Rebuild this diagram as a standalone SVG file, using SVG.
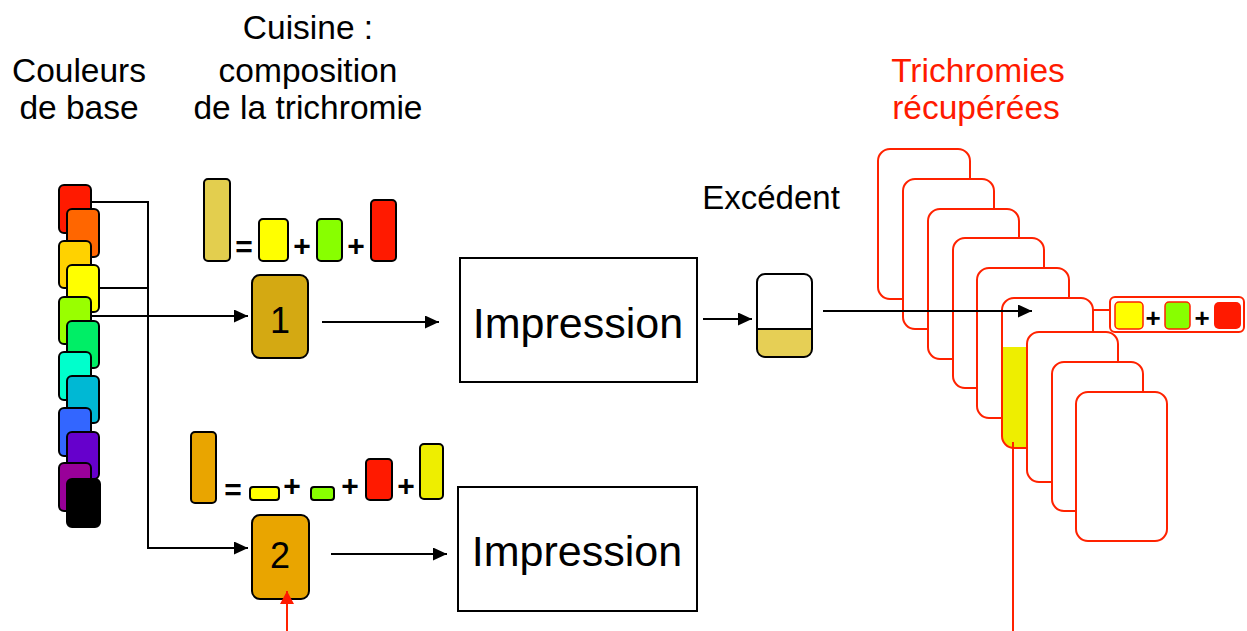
<svg xmlns="http://www.w3.org/2000/svg" width="1247" height="631" viewBox="0 0 1247 631">
  <style>
    .t { font-family: "Liberation Sans", Arial, sans-serif; fill: #000; }
    .title { font-size: 33.5px; text-anchor: middle; }
    .red { fill: #FF1A00; }
    .op { font-size: 30px; font-weight: bold; text-anchor: middle; }
    .chip { stroke: #000; stroke-width: 2; }
    .card { fill: #fff; stroke: #FF2200; stroke-width: 2; }
    .box { fill: #fff; stroke: #000; stroke-width: 2; }
    .wire { fill: none; stroke: #000; stroke-width: 2; }
    .rwire { fill: none; stroke: #FF2200; stroke-width: 2; }
  </style>
  <defs>
    <marker id="arrow" markerUnits="userSpaceOnUse" markerWidth="15" markerHeight="14" refX="14" refY="6.5" orient="auto">
      <path d="M0,0 L14,6.5 L0,13 z" fill="#000"/>
    </marker>
    <marker id="arrowRed" markerUnits="userSpaceOnUse" markerWidth="15" markerHeight="14" refX="13" refY="7" orient="auto">
      <path d="M0,0 L13,7 L0,14 z" fill="#FF1A00"/>
    </marker>
    <clipPath id="card6clip">
      <rect x="1002" y="298" width="91" height="150" rx="12"/>
    </clipPath>
  </defs>

  <!-- Headings -->
  <g id="headings">
    <text class="t title" x="79" y="82">Couleurs</text>
    <text class="t title" x="79" y="119">de base</text>
    <text class="t title" x="308" y="39">Cuisine :</text>
    <text class="t title" x="308" y="82">composition</text>
    <text class="t title" x="308" y="119">de la trichromie</text>
    <text class="t title red" x="978" y="82">Trichromies</text>
    <text class="t title red" x="976" y="119">récupérées</text>
  </g>

  <!-- Palette of base colours -->
  <g id="palette">
    <rect class="chip" x="59" y="185" width="32" height="48" rx="5" fill="#FF1A00"/>
    <rect class="chip" x="67" y="209" width="32" height="48" rx="5" fill="#FF6600"/>
    <rect class="chip" x="59" y="241" width="32" height="47" rx="5" fill="#FFD200"/>
    <rect class="chip" x="67" y="265" width="32" height="47" rx="5" fill="#FFFF00"/>
    <rect class="chip" x="59" y="297" width="32" height="47" rx="5" fill="#99FF00"/>
    <rect class="chip" x="67" y="321" width="32" height="47" rx="5" fill="#00EE66"/>
    <rect class="chip" x="59" y="352" width="32" height="48" rx="5" fill="#00FFCC"/>
    <rect class="chip" x="67" y="376" width="32" height="47" rx="5" fill="#00B8D4"/>
    <rect class="chip" x="59" y="408" width="32" height="48" rx="5" fill="#3366FF"/>
    <rect class="chip" x="67" y="432" width="32" height="47" rx="5" fill="#6600CC"/>
    <rect class="chip" x="59" y="463" width="32" height="48" rx="5" fill="#990099"/>
    <rect class="chip" x="67" y="479" width="33" height="48" rx="5" fill="#000"/>
  </g>

  <!-- Recipe 1 -->
  <g id="recipe1">
    <rect class="chip" x="204" y="179" width="26" height="82" rx="4" fill="#E3CE4E"/>
    <text class="t op" x="244" y="257">=</text>
    <rect class="chip" x="259" y="219" width="29" height="42" rx="4" fill="#FFFF00"/>
    <text class="t op" x="302" y="256">+</text>
    <rect class="chip" x="317" y="219" width="25" height="42" rx="4" fill="#88FF00"/>
    <text class="t op" x="356" y="256">+</text>
    <rect class="chip" x="371" y="200" width="25" height="61" rx="4" fill="#FF1A00"/>
  </g>

  <g id="mix1">
    <rect class="chip" x="252" y="275" width="56" height="83" rx="8" fill="#D4A912"/>
    <text class="t" x="280" y="333" font-size="36" text-anchor="middle">1</text>
  </g>

  <!-- Recipe 2 -->
  <g id="recipe2">
    <rect class="chip" x="191" y="432" width="25" height="71" rx="4" fill="#E9A500"/>
    <text class="t op" x="233" y="500">=</text>
    <rect class="chip" x="250" y="487" width="29" height="13" rx="3" fill="#FFFF00"/>
    <text class="t op" x="292" y="496">+</text>
    <rect class="chip" x="311" y="487" width="23" height="13" rx="3" fill="#88FF00"/>
    <text class="t op" x="350" y="496">+</text>
    <rect class="chip" x="366" y="459" width="26" height="41" rx="4" fill="#FF1A00"/>
    <text class="t op" x="406" y="496">+</text>
    <rect class="chip" x="420" y="444" width="23" height="55" rx="4" fill="#EEEE00"/>
  </g>

  <g id="mix2">
    <rect class="chip" x="252" y="515" width="57" height="84" rx="8" fill="#E9A500"/>
    <text class="t" x="280" y="568" font-size="36" text-anchor="middle">2</text>
  </g>

  <!-- Printing steps -->
  <g id="print1">
    <rect class="box" x="460" y="258" width="237" height="124"/>
    <text class="t" x="578" y="338" font-size="43" text-anchor="middle">Impression</text>
  </g>
  <g id="print2">
    <rect class="box" x="458" y="487" width="239" height="124"/>
    <text class="t" x="577" y="566" font-size="43" text-anchor="middle">Impression</text>
  </g>

  <!-- Leftover ink -->
  <g id="excess">
    <text class="t" x="771" y="209" font-size="33" text-anchor="middle">Excédent</text>
    <path d="M757,329 H812 V349 Q812,357 804,357 H765 Q757,357 757,349 Z" fill="#E6CF55"/>
    <rect x="757" y="274" width="55" height="83" rx="8" fill="none" stroke="#000" stroke-width="2"/>
    <line x1="757" y1="329" x2="812" y2="329" stroke="#000" stroke-width="2"/>
  </g>

  <!-- Stack of recovered mixes -->
  <g id="stack">
    <rect class="card" x="878" y="149" width="92" height="150" rx="12"/>
    <rect class="card" x="903" y="179" width="91" height="150" rx="12"/>
    <rect class="card" x="928" y="209" width="91" height="150" rx="12"/>
    <rect class="card" x="953" y="238" width="91" height="150" rx="12"/>
    <rect class="card" x="977" y="268" width="92" height="150" rx="12"/>
    <g id="card6">
      <rect x="1002" y="298" width="91" height="150" rx="12" fill="#fff"/>
      <rect x="1002" y="347" width="91" height="101" fill="#EEEE00" clip-path="url(#card6clip)"/>
      <rect x="1002" y="298" width="91" height="150" rx="12" fill="none" stroke="#FF2200" stroke-width="2"/>
    </g>
    <rect class="card" x="1027" y="332" width="91" height="150" rx="12"/>
    <rect class="card" x="1052" y="362" width="91" height="149" rx="12"/>
    <rect class="card" x="1076" y="392" width="91" height="149" rx="12"/>
  </g>

  <!-- Recovered recipe label -->
  <g id="legend">
    <rect x="1110" y="297" width="134" height="35" rx="5" fill="#fff" stroke="#FF2200" stroke-width="2"/>
    <rect x="1115" y="302" width="28" height="27" rx="4" fill="#FFFF00" stroke="#FF2200" stroke-width="1.5"/>
    <text class="t" x="1153" y="327" font-size="26" font-weight="bold" text-anchor="middle">+</text>
    <rect x="1165" y="302" width="25" height="27" rx="4" fill="#88FF00" stroke="#FF2200" stroke-width="1.5"/>
    <text class="t" x="1202" y="327" font-size="26" font-weight="bold" text-anchor="middle">+</text>
    <rect x="1214" y="302" width="27" height="27" rx="5" fill="#FF1A00"/>
  </g>

  <!-- Connectors -->
  <g id="connectors">
    <polyline class="wire" points="91,202 148,202 148,548" />
    <line class="wire" x1="99" y1="288" x2="148" y2="288"/>
    <line class="wire" x1="91" y1="316" x2="248" y2="316" marker-end="url(#arrow)"/>
    <line class="wire" x1="147" y1="548" x2="248" y2="548" marker-end="url(#arrow)"/>
    <line class="wire" x1="322" y1="322" x2="439" y2="322" marker-end="url(#arrow)"/>
    <line class="wire" x1="331" y1="554" x2="447" y2="554" marker-end="url(#arrow)"/>
    <line class="wire" x1="703" y1="319" x2="752" y2="319" marker-end="url(#arrow)"/>
    <line class="wire" x1="823" y1="311" x2="1032" y2="311" marker-end="url(#arrow)"/>
    <line class="rwire" x1="287" y1="631" x2="287" y2="591" marker-end="url(#arrowRed)"/>
    <line class="rwire" x1="1013" y1="442" x2="1013" y2="631"/>
    <line class="rwire" x1="1093" y1="310" x2="1110" y2="310"/>
  </g>
</svg>
